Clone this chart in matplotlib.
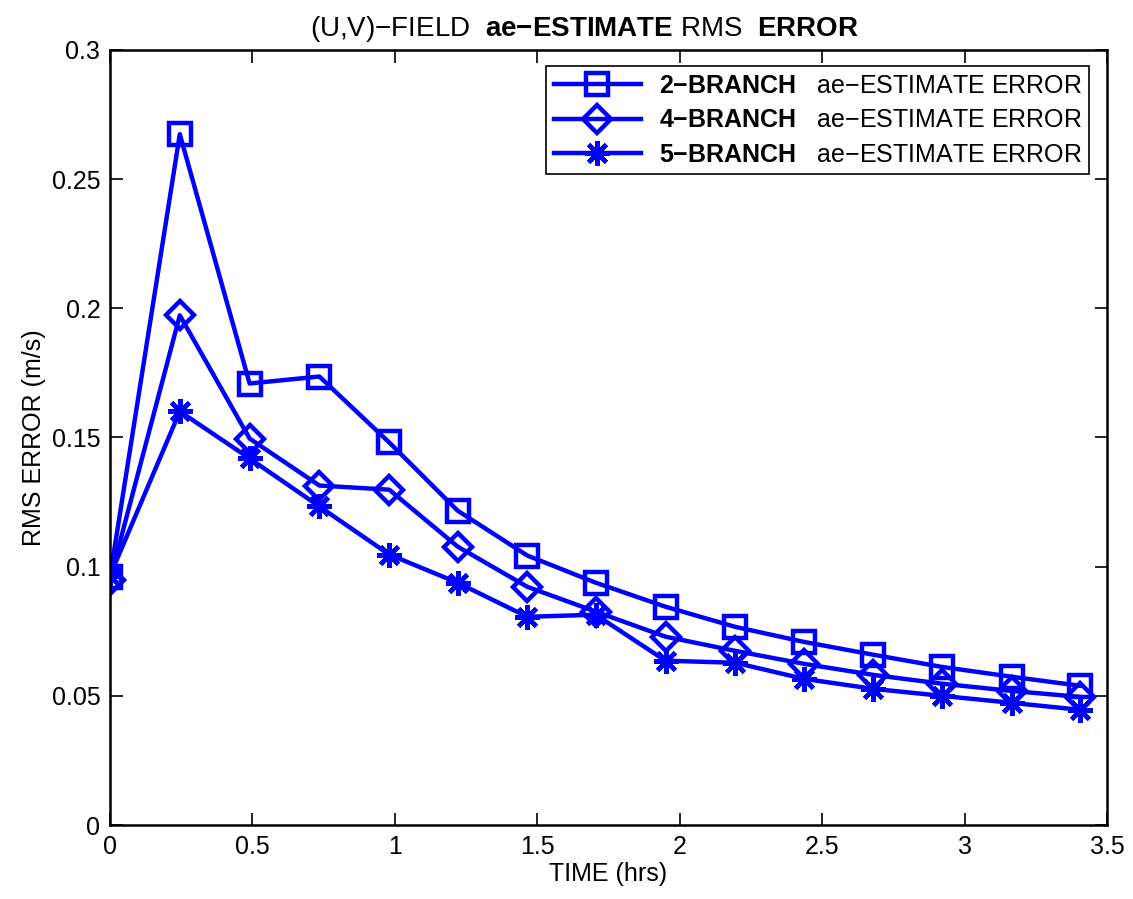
import matplotlib
matplotlib.use("Agg")
import matplotlib.pyplot as plt

# Data
time_hrs = [0, 0.245, 0.49, 0.735, 0.98, 1.22, 1.465, 1.705,
            1.95, 2.195, 2.435, 2.68, 2.92, 3.165, 3.405]

err_2branch = [0.0961, 0.2674, 0.1709, 0.1736, 0.1481, 0.1217, 0.1043, 0.0938,
               0.0845, 0.0767, 0.0709, 0.0659, 0.0612, 0.0574, 0.0539]
err_4branch = [0.0950, 0.1973, 0.1496, 0.1314, 0.1298, 0.1078, 0.0922, 0.0826,
               0.0729, 0.0674, 0.0624, 0.0581, 0.0547, 0.0519, 0.0496]
err_5branch = [0.0965, 0.1601, 0.1419, 0.1233, 0.1047, 0.0938, 0.0806, 0.0814,
               0.0636, 0.0628, 0.0566, 0.0527, 0.0500, 0.0473, 0.0446]

labels = [r"$\mathbf{2{-}BRANCH}$   ae−ESTIMATE ERROR",
          r"$\mathbf{4{-}BRANCH}$   ae−ESTIMATE ERROR",
          r"$\mathbf{5{-}BRANCH}$   ae−ESTIMATE ERROR"]

xticks = [0, 0.5, 1, 1.5, 2, 2.5, 3, 3.5]
yticks = [0, 0.05, 0.1, 0.15, 0.2, 0.25, 0.3]

plt.rcParams["font.family"] = ["Liberation Sans", "DejaVu Sans"]
plt.rcParams["mathtext.fontset"] = "custom"
plt.rcParams["mathtext.rm"] = "Liberation Sans"
plt.rcParams["mathtext.bf"] = "Liberation Sans:bold"
plt.rcParams["mathtext.it"] = "Liberation Sans:italic"
plt.rcParams["font.size"] = 18

fig = plt.figure(figsize=(11.33, 8.99), dpi=100)
ax = fig.add_axes([0.0971, 0.0823, 0.8800, 0.8621])

blue = (0, 0, 1)
common = dict(color=blue, linewidth=3.2, markerfacecolor="none",
              markeredgecolor=blue, markeredgewidth=3.2)

ax.plot(time_hrs, err_2branch, marker="s", markersize=16, label=labels[0], **common)
ax.plot(time_hrs, err_4branch, marker="D", markersize=14, label=labels[1], **common)
ax.plot(time_hrs, err_5branch, marker=(8, 2, 0), markersize=18, label=labels[2], **common)

ax.set_xlim(0, 3.5)
ax.set_ylim(0, 0.3)
ax.set_xticks(xticks)
ax.set_yticks(yticks)
ax.set_xticklabels(["%g" % v for v in xticks])
ax.set_yticklabels(["%g" % v for v in yticks])
ax.tick_params(direction="in", length=9, width=1.2, top=True, right=True,
               labelsize=18, pad=7)
for s in ax.spines.values():
    s.set_linewidth(1.8)

ax.set_xlabel("TIME (hrs)", fontsize=18, labelpad=2)
ax.set_ylabel("RMS ERROR (m/s)", fontsize=18, labelpad=4)
ax.set_title(r"(U,V)−FIELD  $\mathbf{ae{-}ESTIMATE}$ RMS  $\mathbf{ERROR}$",
             fontsize=20, pad=10, x=0.476)

leg = ax.legend(loc="upper right", bbox_to_anchor=(0.982, 0.979),
                fontsize=18, handlelength=3.5, handletextpad=0.7,
                borderaxespad=0, fancybox=False, framealpha=1,
                edgecolor="black", labelspacing=0.42, borderpad=0.3)
leg.get_frame().set_linewidth(1.2)

fig.savefig("out.png", dpi=100)
